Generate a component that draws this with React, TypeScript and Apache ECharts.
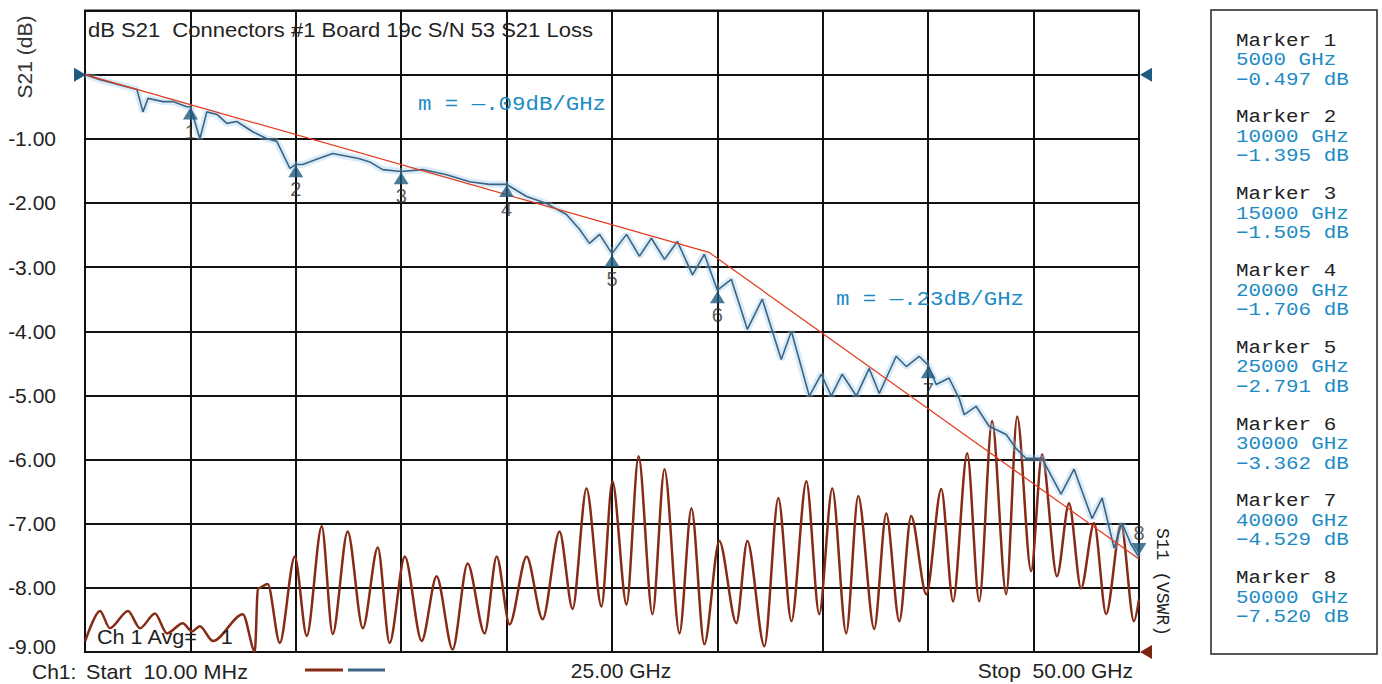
import React, { useEffect, useRef } from 'react';
import * as echarts from 'echarts';

// S21 trace: [frequency GHz, dB]
const s21Trace: [number, number][] = [
  [0.01, 0.0], [0.71, -0.08], [1.66, -0.16], [2.46, -0.23], [2.75, -0.58], [2.99, -0.37],
  [3.7, -0.42], [4.17, -0.42], [4.83, -0.5], [5.0, -0.5], [5.45, -1.0], [5.78, -0.58],
  [6.26, -0.62], [6.73, -0.76], [7.2, -0.73], [7.96, -0.89], [8.63, -1.0], [9.1, -1.04],
  [9.57, -1.36], [9.72, -1.46], [10.0, -1.4], [10.33, -1.4], [10.99, -1.32], [11.75, -1.23],
  [12.56, -1.28], [13.03, -1.31], [13.51, -1.36], [14.12, -1.48], [15.0, -1.51], [16.02, -1.48],
  [17.16, -1.56], [18.25, -1.67], [19.19, -1.71], [20.0, -1.71], [20.95, -1.9], [21.9, -2.01],
  [22.84, -2.18], [23.46, -2.41], [23.93, -2.63], [24.41, -2.49], [25.0, -2.79], [25.69, -2.49],
  [26.3, -2.83], [26.87, -2.55], [27.49, -2.88], [28.1, -2.6], [28.82, -3.12], [29.38, -2.8],
  [30.0, -3.36], [30.66, -3.19], [31.42, -3.97], [32.13, -3.5], [33.03, -4.44], [33.51, -4.0],
  [34.36, -5.01], [34.93, -4.67], [35.4, -5.01], [35.92, -4.67], [36.59, -5.01], [37.2, -4.58],
  [37.68, -4.97], [38.48, -4.39], [38.96, -4.55], [39.57, -4.39], [40.0, -4.53], [40.38, -4.83],
  [40.99, -4.73], [41.47, -5.05], [41.71, -5.3], [42.27, -5.17], [42.89, -5.48], [43.7, -5.61],
  [44.17, -5.83], [44.64, -5.98], [45.4, -5.98], [46.3, -6.54], [46.92, -6.15], [47.77, -6.92],
  [48.25, -6.6], [48.82, -7.38], [49.19, -6.99], [49.62, -7.32], [50.0, -7.52],
];

// S11 trace drawn in the same screen units: [frequency GHz, grid value]
const s11Trace: [number, number][] = [
  [0.01, -8.83], [0.71, -8.36], [1.18, -8.63], [2.04, -8.36], [2.61, -8.63], [3.32, -8.4],
  [3.89, -8.71], [4.64, -8.55], [5.07, -8.68], [5.45, -8.6], [6.07, -8.83], [7.49, -8.41],
  [8.06, -8.99], [8.2, -8.01], [8.67, -7.94], [9.24, -8.86], [9.95, -7.51], [10.52, -8.75],
  [11.23, -7.04], [11.75, -8.72], [12.46, -7.12], [13.18, -8.63], [13.89, -7.37], [14.45, -8.86],
  [15.17, -7.51], [15.97, -8.83], [16.68, -7.82], [17.44, -8.96], [18.15, -7.62], [18.96, -8.71],
  [19.53, -7.51], [20.14, -8.57], [20.95, -7.51], [21.71, -8.49], [22.51, -7.12], [23.13, -8.33],
  [23.79, -6.45], [24.5, -8.29], [25.02, -6.34], [25.69, -8.26], [26.26, -5.95], [26.92, -8.41],
  [27.49, -6.15], [28.2, -8.71], [28.77, -6.76], [29.38, -8.88], [30.09, -7.27], [30.9, -8.55],
  [31.42, -7.27], [32.23, -8.91], [32.89, -6.6], [33.51, -8.52], [34.22, -6.34], [34.83, -8.41],
  [35.45, -6.45], [36.11, -8.71], [36.68, -6.57], [37.44, -8.64], [38.01, -6.84], [38.63, -8.52],
  [39.19, -6.88], [39.91, -8.1], [40.62, -6.46], [41.18, -8.21], [41.85, -5.9], [42.42, -8.21],
  [43.03, -5.4], [43.7, -8.1], [44.22, -5.33], [44.88, -7.74], [45.4, -5.92], [46.11, -7.82],
  [46.68, -6.68], [47.25, -8.01], [47.87, -6.99], [48.44, -8.41], [49.15, -7.01], [49.76, -8.52],
  [50.0, -8.18],
];

// Piecewise slope fit line
const slopeLine: [number, number][] = [[0.01, 0], [29.6, -2.77], [50, -7.55]];
const slopeLabels = ['m = \u2014.09dB/GHz', 'm = \u2014.23dB/GHz'];

// Markers
const markerFreqMHz = [5000, 10000, 15000, 20000, 25000, 30000, 40000, 50000];
const markerDb = [-0.497, -1.395, -1.505, -1.706, -2.791, -3.362, -4.529, -7.52];

const yMin = -9;
const yMax = 1;
const xMin = 0;
const xMax = 50;

const SANS = 'Arial, "Liberation Sans", sans-serif';
const MONO = '"Courier New", "Liberation Mono", monospace';
const BLUE_TXT = '#1c8bc4';
const TRACE_BLUE = '#3d6383';
const TRACE_BROWN = '#862b16';

export default function App() {
  const ref = useRef<HTMLDivElement>(null);
  useEffect(() => {
    if (!ref.current) return;
    const chart = echarts.init(ref.current, undefined, { renderer: 'svg' });

    const markerData = markerFreqMHz.map((f, i) => {
      const last = i === markerFreqMHz.length - 1;
      return {
        value: [f / 1000, markerDb[i]],
        symbolRotate: last ? 180 : 0,
        symbolOffset: last ? [0, -8] : [0, 7],
        label: last
          ? { position: 'top', distance: 0 }
          : { position: 'bottom', distance: 2 },
      };
    });

    const graphics: any[] = [];
    // axis name left
    graphics.push({
      type: 'text', x: 24, y: 57, rotation: Math.PI / 2,
      style: { text: 'S21 (dB)', font: `21px ${SANS}`, fill: '#333', align: 'center', verticalAlign: 'middle' },
    });
    // title inside plot
    graphics.push({
      type: 'text', x: 88, y: 30, z: 10, scaleX: 1.1,
      style: { text: 'dB S21  Connectors #1 Board 19c S/N 53 S21 Loss', font: `20px ${SANS}`, fill: '#222', verticalAlign: 'middle' },
    });
    // slope labels
    graphics.push({
      type: 'text', x: 418, y: 104, z: 10, scaleX: 1.12,
      style: { text: slopeLabels[0], font: `20px ${MONO}`, fill: BLUE_TXT, verticalAlign: 'middle' },
    });
    graphics.push({
      type: 'text', x: 836, y: 299, z: 10, scaleX: 1.12,
      style: { text: slopeLabels[1], font: `20px ${MONO}`, fill: BLUE_TXT, verticalAlign: 'middle' },
    });
    // Ch 1 Avg
    graphics.push({
      type: 'text', x: 97, y: 637, z: 10, scaleX: 1.08,
      style: { text: 'Ch 1 Avg=    1', font: `20px ${SANS}`, fill: '#222', verticalAlign: 'middle' },
    });
    // right axis name
    graphics.push({
      type: 'text', x: 1162, y: 582, rotation: -Math.PI / 2,
      style: { text: 'S11 (VSWR)', font: `18px ${MONO}`, fill: '#222', align: 'center', verticalAlign: 'middle' },
    });
    // bottom annotations
    graphics.push({
      type: 'text', x: 32, y: 671,
      style: { text: 'Ch1:', font: `21px ${SANS}`, fill: '#222', verticalAlign: 'middle' },
    });
    graphics.push({
      type: 'text', x: 86, y: 672, scaleX: 1.08,
      style: { text: 'Start  10.00 MHz', font: `20px ${SANS}`, fill: '#222', verticalAlign: 'middle' },
    });
    graphics.push({
      type: 'text', x: 621, y: 670,
      style: { text: '25.00 GHz', font: `21px ${SANS}`, fill: '#222', align: 'center', verticalAlign: 'middle' },
    });
    graphics.push({
      type: 'text', x: 1133, y: 670,
      style: { text: 'Stop  50.00 GHz', font: `21px ${SANS}`, fill: '#222', align: 'right', verticalAlign: 'middle' },
    });
    // legend lines
    graphics.push({ type: 'line', shape: { x1: 305, y1: 670, x2: 343, y2: 670 }, style: { stroke: TRACE_BROWN, lineWidth: 3 } });
    graphics.push({ type: 'line', shape: { x1: 348, y1: 670, x2: 385, y2: 670 }, style: { stroke: TRACE_BLUE, lineWidth: 3 } });
    // marker panel
    graphics.push({
      type: 'rect', shape: { x: 1211, y: 10, width: 166, height: 644 },
      style: { fill: '#fff', stroke: '#222', lineWidth: 1.5 },
    });
    markerFreqMHz.forEach((f, i) => {
      const y0 = 41 + i * 76.8;
      const lines = [
        { t: `Marker ${i + 1}`, c: '#222' },
        { t: `${f} GHz`, c: BLUE_TXT },
        { t: `\u2212${Math.abs(markerDb[i]).toFixed(3)} dB`, c: BLUE_TXT },
      ];
      lines.forEach((ln, k) => {
        graphics.push({
          type: 'text', x: 1236, y: y0 + k * 19.5, scaleX: 1.16,
          style: { text: ln.t, font: `18px ${MONO}`, fill: ln.c, verticalAlign: 'middle' },
        });
      });
    });

    chart.setOption({
      animation: false,
      backgroundColor: '#fff',
      grid: {
        left: 85, top: 10.5, width: 1054, height: 641.5,
        show: true, borderColor: '#111', borderWidth: 2, backgroundColor: 'transparent',
      },
      xAxis: {
        type: 'value', min: xMin, max: xMax, interval: 5,
        axisLine: { show: false }, axisTick: { show: false }, axisLabel: { show: false },
        splitLine: { show: true, lineStyle: { color: '#111', width: 2 } },
      },
      yAxis: {
        type: 'value', min: yMin, max: yMax, interval: 1,
        axisLine: { show: false }, axisTick: { show: false },
        axisLabel: {
          show: true, margin: 29, fontSize: 21, fontFamily: SANS, color: '#222',
          formatter: (v: number) => (v < 0 ? (v === yMin ? `{low|${v.toFixed(2)}}` : v.toFixed(2)) : ''),
          rich: {
            low: { fontSize: 21, fontFamily: SANS, color: '#222', padding: [0, 0, 12, 0] },
          },
        },
        splitLine: { show: true, lineStyle: { color: '#111', width: 2 } },
      },
      series: [
        {
          type: 'line', name: 'S11', data: s11Trace, showSymbol: false, silent: true,
          smooth: 0.3, smoothMonotone: 'x',
          lineStyle: { color: TRACE_BROWN, width: 2.5 }, z: 3,
          markPoint: {
            symbol: 'triangle', symbolSize: [14, 12], silent: true, label: { show: false },
            data: [{ coord: [xMax, yMin], symbolRotate: 90, symbolOffset: [7, 0], itemStyle: { color: '#7a2410' } }],
          },
        },
        {
          type: 'line', name: 'S21 glow', data: s21Trace, showSymbol: false, silent: true,
          lineStyle: { color: 'rgba(150,200,235,0.35)', width: 7 }, z: 4,
        },
        {
          type: 'line', name: 'S21', data: s21Trace, showSymbol: false, silent: true,
          lineStyle: { color: TRACE_BLUE, width: 1.6 }, z: 5,
          markPoint: {
            symbol: 'triangle', symbolSize: [14, 12], silent: true, label: { show: false },
            itemStyle: { color: '#1f5a80' },
            data: [
              { coord: [xMin, 0], symbolRotate: -90, symbolOffset: [-5, 0] },
              { coord: [xMax, 0], symbolRotate: 90, symbolOffset: [7, 0] },
            ],
          },
        },
        {
          type: 'line', name: 'slope', data: slopeLine, showSymbol: false, silent: true,
          lineStyle: { color: '#e53a1c', width: 1.2 }, z: 6,
        },
        {
          type: 'scatter', name: 'markers', data: markerData, silent: true, z: 7,
          symbol: 'triangle', symbolSize: [15, 12],
          itemStyle: { color: '#1f5a80' },
          label: {
            show: true, formatter: (p: any) => String(p.dataIndex + 1),
            fontSize: 20, fontFamily: SANS, color: '#333',
          },
        },
      ],
      graphic: graphics,
    });
    return () => chart.dispose();
  }, []);
  return <div ref={ref} style={{ position: 'fixed', left: 0, top: 0, width: 1382, height: 684, background: '#fff' }} />;
}
